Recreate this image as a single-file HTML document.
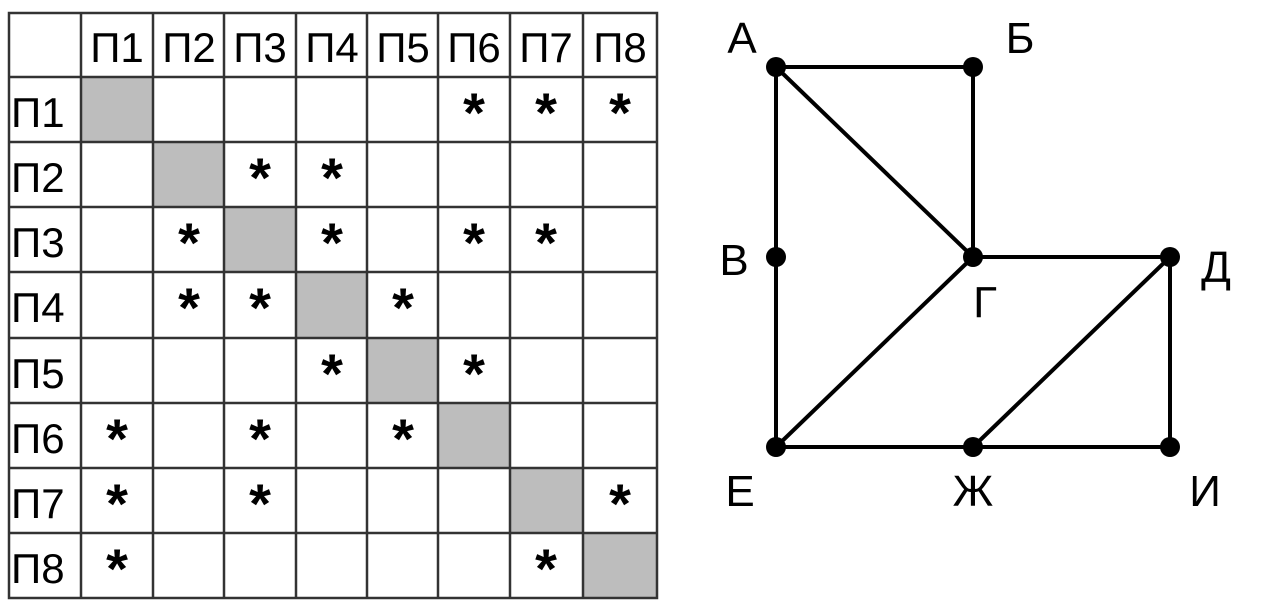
<!DOCTYPE html>
<html><head><meta charset="utf-8"><style>
body{margin:0;background:#fff;width:1262px;height:610px;overflow:hidden}
</style></head><body>
<svg width="1262" height="610" xmlns="http://www.w3.org/2000/svg" font-family="Liberation Sans, DejaVu Sans, sans-serif">
<g fill="#bdbdbd">
<rect x="81" y="77" width="72" height="65"/>
<rect x="153" y="142" width="71" height="65"/>
<rect x="224" y="207" width="72" height="65"/>
<rect x="296" y="272" width="71" height="66"/>
<rect x="367" y="338" width="71" height="65"/>
<rect x="438" y="403" width="72" height="65"/>
<rect x="510" y="468" width="73" height="65"/>
<rect x="583" y="533" width="74" height="65"/>
</g>
<g stroke="#333" stroke-width="2.5" fill="none">
<rect x="9" y="13" width="648" height="585"/>
<line x1="81" y1="13" x2="81" y2="598"/><line x1="153" y1="13" x2="153" y2="598"/>
<line x1="224" y1="13" x2="224" y2="598"/><line x1="296" y1="13" x2="296" y2="598"/>
<line x1="367" y1="13" x2="367" y2="598"/><line x1="438" y1="13" x2="438" y2="598"/>
<line x1="510" y1="13" x2="510" y2="598"/><line x1="583" y1="13" x2="583" y2="598"/>
<line x1="9" y1="77" x2="657" y2="77"/><line x1="9" y1="142" x2="657" y2="142"/>
<line x1="9" y1="207" x2="657" y2="207"/><line x1="9" y1="272" x2="657" y2="272"/>
<line x1="9" y1="338" x2="657" y2="338"/><line x1="9" y1="403" x2="657" y2="403"/>
<line x1="9" y1="468" x2="657" y2="468"/><line x1="9" y1="533" x2="657" y2="533"/>
</g>
<g font-size="42" text-anchor="middle" fill="#000">
<text x="117" y="62">П1</text><text x="189" y="62">П2</text><text x="260" y="62">П3</text><text x="332" y="62">П4</text>
<text x="403" y="62">П5</text><text x="474" y="62">П6</text><text x="546" y="62">П7</text><text x="620" y="62">П8</text>
</g>
<g font-size="42" fill="#000">
<text x="11" y="127">П1</text><text x="11" y="192">П2</text><text x="11" y="257">П3</text><text x="11" y="322">П4</text>
<text x="11" y="388">П5</text><text x="11" y="453">П6</text><text x="11" y="518">П7</text><text x="11" y="583">П8</text>
</g>
<g font-size="56" font-weight="bold" text-anchor="middle" fill="#000">
<text x="474" y="132">*</text><text x="546" y="132">*</text><text x="620" y="132">*</text>
<text x="260" y="197">*</text><text x="332" y="197">*</text>
<text x="189" y="262">*</text><text x="332" y="262">*</text><text x="474" y="262">*</text><text x="546" y="262">*</text>
<text x="189" y="327">*</text><text x="260" y="327">*</text><text x="403" y="327">*</text>
<text x="332" y="393">*</text><text x="474" y="393">*</text>
<text x="117" y="458">*</text><text x="260" y="458">*</text><text x="403" y="458">*</text>
<text x="117" y="523">*</text><text x="260" y="523">*</text><text x="620" y="523">*</text>
<text x="117" y="588">*</text><text x="546" y="588">*</text>
</g>
<g stroke="#000" stroke-width="4">
<line x1="776" y1="67" x2="973" y2="67"/><line x1="776" y1="67" x2="973" y2="257"/>
<line x1="776" y1="67" x2="776" y2="447"/><line x1="973" y1="67" x2="973" y2="257"/>
<line x1="973" y1="257" x2="1170" y2="257"/><line x1="973" y1="257" x2="776" y2="447"/>
<line x1="1170" y1="257" x2="973" y2="447"/><line x1="1170" y1="257" x2="1170" y2="447"/>
<line x1="776" y1="447" x2="1170" y2="447"/>
</g>
<g fill="#000">
<circle cx="776" cy="67" r="10"/><circle cx="973" cy="67" r="10"/><circle cx="776" cy="257" r="10"/>
<circle cx="973" cy="257" r="10"/><circle cx="1170" cy="257" r="10"/><circle cx="776" cy="447" r="10"/>
<circle cx="973" cy="447" r="10"/><circle cx="1170" cy="447" r="10"/>
</g>
<g font-size="44" text-anchor="middle" fill="#000">
<text x="742" y="53">А</text><text x="1020" y="53">Б</text><text x="734" y="275">В</text>
<text x="1216" y="282">Д</text><text x="985" y="317">Г</text><text x="740" y="506">Е</text>
<text x="973" y="506">Ж</text><text x="1205" y="506">И</text>
</g>
</svg>
</body></html>
